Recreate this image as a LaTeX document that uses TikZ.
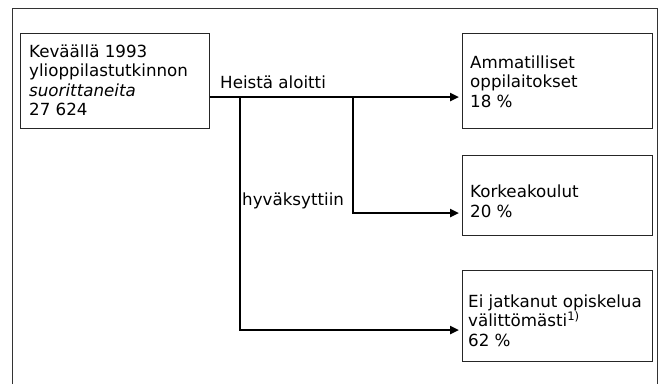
\documentclass[tikz,border=0pt]{standalone}
\usepackage{fontspec}
\setmainfont{DejaVu Sans}
\usetikzlibrary{arrows.meta}
\tikzset{
  box/.style={draw=black!85, line width=0.8pt, inner sep=0pt, anchor=north west},
  txt/.style={align=left, inner sep=0pt, anchor=base west, font=\fontsize{16.7}{19.5}\selectfont},
  arr/.style={line width=2.4pt, shorten >=3pt, -{Triangle[length=9pt,width=8pt]}},
}
\begin{document}
\begin{tikzpicture}[x=1pt,y=-1pt]
\useasboundingbox (0,0) rectangle (666,384);
\draw[black!80, line width=0.8pt] (12,384) -- (12,8) -- (657,8) -- (657,384);
\node[box, minimum width=189pt, minimum height=95pt] (src) at (20,33) {};
\node[box, minimum width=190pt, minimum height=95pt] (amm) at (462,33) {};
\node[box, minimum width=190pt, minimum height=80pt] (kork) at (462,155) {};
\node[box, minimum width=190pt, minimum height=91pt] (ei) at (462,270) {};
\node[txt] (srctext) at (29,115.5) {Keväällä 1993\\ylioppilastutkinnon\\\textit{suorittaneita}\\27 624};
\node[txt] (ammtext) at (470,107) {Ammatilliset\\oppilaitokset\\18 \%};
\node[txt] (korktext) at (470,217) {Korkeakoulut\\20 \%};
\node[txt] (eitext) at (468,346) {Ei jatkanut opiskelua\\välittömästi\textsuperscript{1)}\\62 \%};
\node[txt] (heista) at (220,88) {Heistä aloitti};
\node[txt] (hyv) at (242,205) {hyväksyttiin};
\coordinate (j1) at (240,97);
\coordinate (j2) at (353,97);
\coordinate (k1) at (353,213);
\coordinate (e1) at (240,330);
\draw[arr] (src.east |- j1) -- (amm.west |- j1);
\draw[arr] (j2) -- (k1) -- (kork.west |- k1);
\draw[arr] (j1) -- (e1) -- (ei.west |- e1);
\end{tikzpicture}
\end{document}
